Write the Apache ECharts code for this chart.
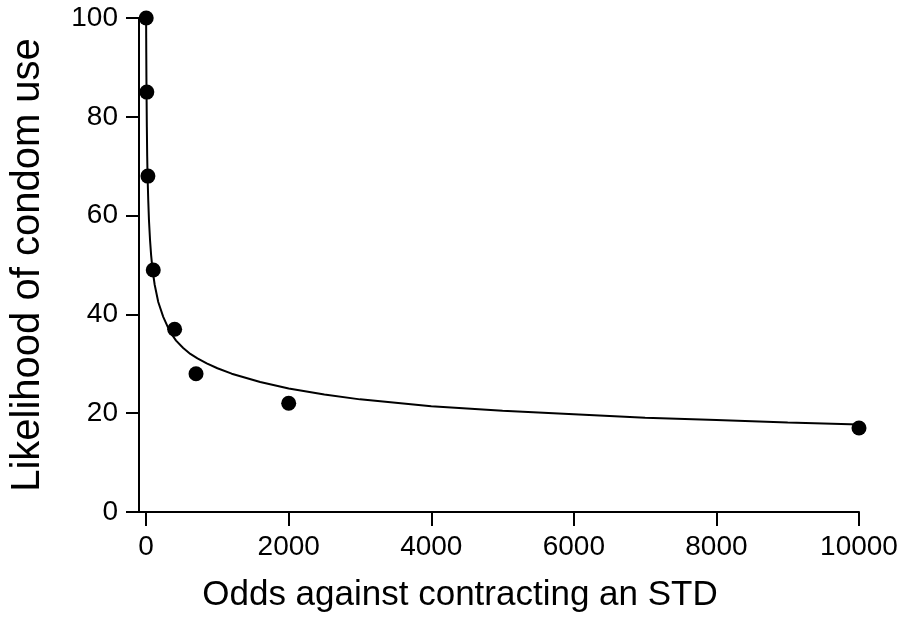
<!DOCTYPE html>
<html>
<head>
<meta charset="utf-8">
<script src="https://cdn.jsdelivr.net/npm/echarts@6/dist/echarts.min.js"></script>
<style>
  html, body { margin: 0; padding: 0; background: #fff; }
  #chart { width: 904px; height: 642px; }
</style>
</head>
<body>
<div id="chart"></div>
<script>
// observed points: odds against (x) vs likelihood of condom use (y)
const oddsX = [1, 10, 25, 100, 400, 700, 2000, 10000]
const likelihoodY = [100, 85, 68, 49, 37, 28, 22, 17]

// fitted curve
const curveX = [0, 1, 2, 4, 7, 10, 15, 20, 30, 40, 55, 70, 90, 120, 170, 240, 330, 420, 520, 620, 720, 850, 1000, 1200, 1600, 2000, 2500, 3000, 4000, 5000, 6000, 7000, 8000, 9000, 10000]
const curveY = [100, 96, 93, 88, 83, 78, 72, 68, 63, 59, 55, 52, 49, 46, 42.5, 39.5, 36.6, 34.7, 33.2, 32, 31.1, 30.1, 29.1, 28, 26.3, 25, 23.8, 22.8, 21.4, 20.5, 19.8, 19.1, 18.6, 18.1, 17.7]

// tick labels
const xTicks = [0, 2000, 4000, 6000, 8000, 10000]
const yTicks = [0, 20, 40, 60, 80, 100]

const font = 'Liberation Sans, Arial, sans-serif'

var myChart = echarts.init(document.getElementById('chart'))

var option = {
    animation: false,
    grid: { left: 139, right: 45, top: 18, bottom: 130, outerBoundsMode: 'none' },
    xAxis: {
        type: 'value',
        min: -100,
        max: 10000,
        name: 'Odds against contracting an STD',
        nameLocation: 'middle',
        nameGap: 66,
        nameTextStyle: { fontFamily: font, fontSize: 35, color: '#000', padding: [0, 78, 0, 0] },
        axisLine: { onZero: false, lineStyle: { color: '#000', width: 2 } },
        axisTick: { customValues: xTicks, length: 14, lineStyle: { color: '#000', width: 2 } },
        axisLabel: { customValues: xTicks, margin: 21, fontFamily: font, fontSize: 28, color: '#000', formatter: v => String(v) },
        splitLine: { show: false }
    },
    yAxis: {
        type: 'value',
        min: 0,
        max: 100,
        interval: 20,
        name: 'Likelihood of condom use',
        nameLocation: 'middle',
        nameGap: 91,
        nameTextStyle: { fontFamily: font, fontSize: 40, color: '#000' },
        axisLine: { show: true, onZero: false, lineStyle: { color: '#000', width: 2 } },
        axisTick: { show: true, length: 13, lineStyle: { color: '#000', width: 2 } },
        axisLabel: { margin: 21, fontFamily: font, fontSize: 28, color: '#000', formatter: v => String(v) },
        splitLine: { show: false }
    },
    series: [
        {
            type: 'line',
            data: curveX.map((x, i) => [x, curveY[i]]),
            smooth: false,
            showSymbol: false,
            lineStyle: { color: '#000', width: 2 }
        },
        {
            type: 'scatter',
            data: oddsX.map((x, i) => [x, likelihoodY[i]]),
            symbolSize: 15,
            itemStyle: { color: '#000', opacity: 1 }
        }
    ]
}

myChart.setOption(option)
</script>
</body>
</html>
